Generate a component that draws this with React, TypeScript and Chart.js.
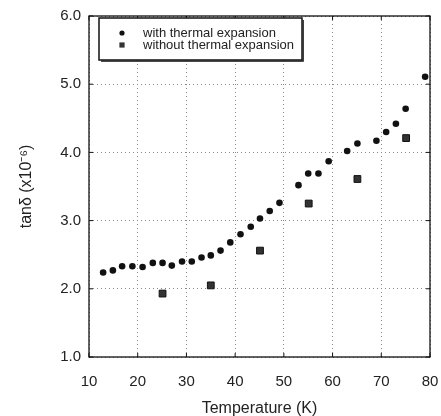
import React, { useEffect, useRef } from 'react';
import { Chart, registerables } from 'chart.js';

Chart.register(...registerables);

// Datos
const withTemps = [12.9, 14.9, 16.8, 18.9, 21.0, 23.1, 25.1, 27.0, 29.1, 31.1, 33.1, 35.0, 37.0, 39.0, 41.1, 43.2, 45.1, 47.1, 49.1, 53.0, 55.0, 57.1, 59.2, 63.0, 65.1, 69.0, 71.0, 73.0, 75.0, 79.0];
const withTan = [2.24, 2.27, 2.33, 2.33, 2.32, 2.38, 2.38, 2.34, 2.40, 2.40, 2.46, 2.49, 2.56, 2.68, 2.80, 2.91, 3.03, 3.14, 3.26, 3.52, 3.69, 3.69, 3.87, 4.02, 4.13, 4.17, 4.30, 4.42, 4.64, 5.11];
const withoutTemps = [25.1, 35.0, 45.1, 55.1, 65.1, 75.1];
const withoutTan = [1.93, 2.05, 2.56, 3.25, 3.61, 4.21];

const xTicks = [10, 20, 30, 40, 50, 60, 70, 80];
const yTicks = [1, 2, 3, 4, 5, 6];
const legendLabels = ['with thermal expansion', 'without thermal expansion'];

const FONT = "'Liberation Sans', Arial, sans-serif";

// Marco, marcas interiores y leyenda dentro del área
const framePlugin = {
  id: 'frame',
  afterDraw(chart: any) {
    const { ctx, chartArea: a, scales } = chart;
    ctx.save();
    ctx.strokeStyle = '#111';
    ctx.lineWidth = 1.3;
    ctx.strokeRect(a.left, a.top, a.right - a.left, a.bottom - a.top);

    ctx.lineWidth = 1;
    ctx.beginPath();
    xTicks.forEach((t) => {
      const px = scales.x.getPixelForValue(t);
      ctx.moveTo(px, a.bottom);
      ctx.lineTo(px, a.bottom - 4);
      ctx.moveTo(px, a.top);
      ctx.lineTo(px, a.top + 4);
    });
    yTicks.forEach((t) => {
      const py = scales.y.getPixelForValue(t);
      ctx.moveTo(a.left, py);
      ctx.lineTo(a.left + 4, py);
      ctx.moveTo(a.right, py);
      ctx.lineTo(a.right - 4, py);
    });
    ctx.stroke();

    // Leyenda
    const bx = a.left + 10;
    const by = a.top + 2;
    const bw = 203;
    const bh = 42;
    ctx.fillStyle = '#fff';
    ctx.fillRect(bx, by, bw, bh);
    ctx.strokeStyle = '#111';
    ctx.lineWidth = 1.5;
    ctx.strokeRect(bx, by, bw, bh);
    ctx.lineWidth = 1.2;
    ctx.beginPath();
    ctx.moveTo(bx + 2, by + bh + 1.2);
    ctx.lineTo(bx + bw + 1.2, by + bh + 1.2);
    ctx.lineTo(bx + bw + 1.2, by + 2);
    ctx.stroke();

    const mx = bx + 23;
    const tx = bx + 44;
    const r1 = by + 15;
    const r2 = by + 27;
    ctx.fillStyle = '#111';
    ctx.beginPath();
    ctx.arc(mx, r1, 2.6, 0, Math.PI * 2);
    ctx.fill();
    ctx.fillStyle = '#333';
    ctx.fillRect(mx - 2.6, r2 - 2.6, 5.2, 5.2);

    ctx.fillStyle = '#222';
    ctx.font = `13px ${FONT}`;
    ctx.textBaseline = 'middle';
    ctx.textAlign = 'left';
    ctx.fillText(legendLabels[0], tx, r1);
    ctx.fillText(legendLabels[1], tx, r2);
    ctx.restore();
  },
};

const App: React.FC = () => {
  const chartRef = useRef<HTMLCanvasElement>(null);

  useEffect(() => {
    if (!chartRef.current) return;
    const chart = new Chart(chartRef.current, {
      type: 'scatter',
      data: {
        datasets: [
          {
            label: legendLabels[1],
            data: withoutTemps.map((t, i) => ({ x: t, y: withoutTan[i] })),
            pointStyle: 'rect',
            pointRadius: 4.8,
            backgroundColor: '#333',
            borderColor: '#111',
            borderWidth: 1,
          },
          {
            label: legendLabels[0],
            data: withTemps.map((t, i) => ({ x: t, y: withTan[i] })),
            pointStyle: 'circle',
            pointRadius: 3.3,
            backgroundColor: '#111',
            borderColor: '#111',
            borderWidth: 0,
          },
        ],
      },
      options: {
        responsive: true,
        maintainAspectRatio: false,
        animation: false,
        layout: { padding: { top: 16, right: 11, left: 0, bottom: 0 } },
        plugins: {
          legend: { display: false },
          tooltip: { enabled: false },
        },
        scales: {
          x: {
            type: 'linear',
            min: 10,
            max: 80,
            // tamaño fijo del eje, sin relleno extra por las etiquetas
            afterFit: (s: any) => {
              s.height = 59;
              s.paddingLeft = 0;
              s.paddingRight = 0;
            },
            ticks: {
              stepSize: 10,
              padding: 16,
              color: '#222',
              font: { family: FONT, size: 15 },
            },
            grid: { color: '#888', lineWidth: 1, drawTicks: false },
            border: { display: false, dash: [1, 3] },
            title: {
              display: true,
              text: 'Temperature (K)',
              color: '#222',
              font: { family: FONT, size: 16 },
              padding: { top: 0, bottom: -2 },
            },
          },
          y: {
            type: 'linear',
            min: 1,
            max: 6,
            afterFit: (s: any) => {
              s.width = 89;
              s.paddingTop = 0;
              s.paddingBottom = 0;
            },
            ticks: {
              stepSize: 1,
              padding: 8,
              color: '#222',
              font: { family: FONT, size: 15 },
              callback: (v: any) => Number(v).toFixed(1),
            },
            grid: { color: '#888', lineWidth: 1, drawTicks: false },
            border: { display: false, dash: [1, 3] },
            title: {
              display: true,
              text: 'tanδ (x10⁻⁶)',
              color: '#222',
              font: { family: FONT, size: 16 },
              padding: { top: 17, bottom: 0 },
            },
          },
        },
      },
      plugins: [framePlugin],
    });
    return () => chart.destroy();
  }, []);

  return (
    <div style={{ position: 'absolute', left: 0, top: 0, width: 441, height: 416, background: '#fff' }}>
      <canvas ref={chartRef}></canvas>
    </div>
  );
};

export default App;
